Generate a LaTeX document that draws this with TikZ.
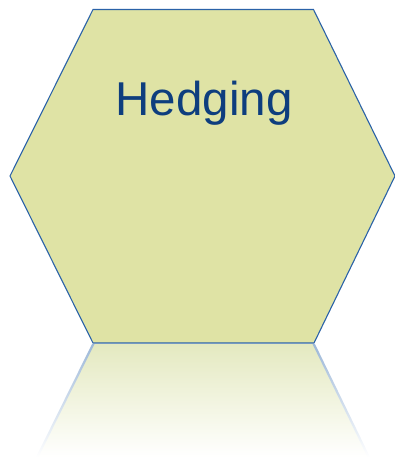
\documentclass[tikz,border=0pt]{standalone}
\usepackage{fontspec}
\setmainfont{Liberation Sans}
\definecolor{hexfill}{HTML}{DFE3A5}
\definecolor{hexline}{HTML}{2A62A8}
\definecolor{hextext}{HTML}{0E3E7E}
\definecolor{reflfill}{HTML}{E4E9C0}
\definecolor{refledge}{HTML}{9DB8D8}
\tikzset{
  hexshape/.style={fill=hexfill, draw=hexline, line width=1.1pt, line join=miter},
  hexlabel/.style={text=hextext, font=\fontsize{47.5}{57}\selectfont, inner sep=0pt, anchor=base},
  reflbody/.style={top color=reflfill, bottom color=white},
  refledgestyle/.style={top color=refledge, bottom color=white}
}
\begin{document}
\begin{tikzpicture}[x=1pt,y=1pt]
\useasboundingbox (0,0) rectangle (395,-458);
% reflection
\shade[reflbody] (93,-344) -- (314,-344) -- (369,-457) -- (37,-457) -- cycle;
\shade[refledgestyle] (92,-344) -- (94.5,-344) -- (38.5,-457) -- (36,-457) -- cycle;
\shade[refledgestyle] (312.5,-344) -- (315,-344) -- (370,-457) -- (367.5,-457) -- cycle;
% hexagon
\path[hexshape] (93,-9.5) coordinate (tl) -- (313.5,-9.5) coordinate (tr) -- (395,-176) coordinate (r)
  -- (314,-343) coordinate (br) -- (93,-343) coordinate (bl) -- (10,-176) coordinate (l) -- cycle;
\node[hexlabel] (lbl) at (204,-115) {Hedging};
\end{tikzpicture}
\end{document}
